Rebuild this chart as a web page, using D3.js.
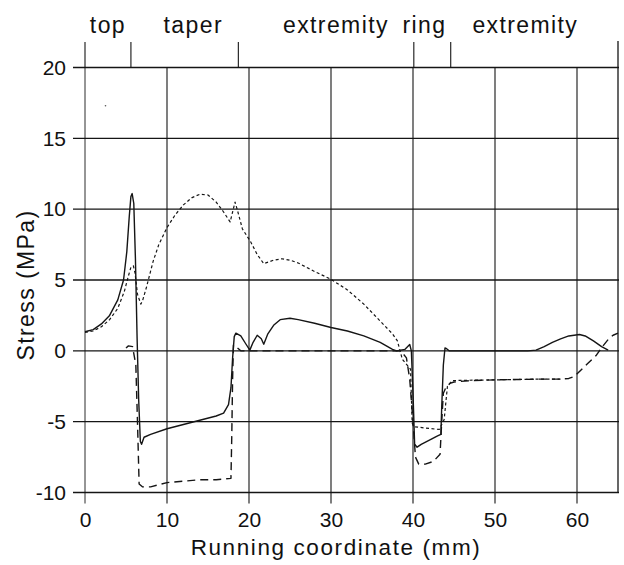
<!DOCTYPE html>
<html>
<head>
<meta charset="utf-8">
<script src="https://cdn.jsdelivr.net/npm/d3@7"></script>
<style>
  body { margin: 0; background: #fff; }
  text { font-family: 'Liberation Sans', Arial, sans-serif; fill: #111; }
</style>
</head>
<body>
<svg id="chart" width="624" height="565"></svg>
<script>
// tick values
xTicks = [0, 10, 20, 30, 40, 50, 60]
yTicks = [-10, -5, 0, 5, 10, 15, 20]

// region marks along the top (mm) and their labels
regionMarks = [0, 5.6, 18.7, 40.1, 44.6]
regionNames = ['top', 'taper', 'extremity', 'ring', 'extremity']
regionCentres = [2.8, 13.2, 30.6, 41.4, 53.7]

// solid curve
solid = [
  [0, 1.35], [1, 1.5], [2, 1.9], [3, 2.5], [4, 3.6], [4.7, 5], [5.1, 7], [5.4, 9.5],
  [5.6, 10.9], [5.75, 11.1], [5.95, 10.4], [6.15, 6.5], [6.35, 1], [6.55, -3.5],
  [6.75, -6.4], [6.9, -6.6], [7.2, -6.1], [8, -5.9], [10, -5.5], [12, -5.2],
  [14, -4.9], [16, -4.6], [16.9, -4.4], [17.5, -3.8], [17.8, -2.6], [18.0, -0.5],
  [18.2, 1.0], [18.4, 1.25], [19, 1.05], [19.6, 0.5], [20.1, 0.05], [20.5, 0.6],
  [21, 1.1], [21.5, 0.85], [21.8, 0.47], [22.3, 1.2], [23, 1.8], [23.8, 2.2],
  [25, 2.3], [26, 2.2], [28, 1.95], [30, 1.65], [32, 1.4], [34, 1.06], [36, 0.6],
  [37.5, 0.1], [38, 0], [39, 0.1], [39.6, 0.45], [39.8, 0], [40.0, -3],
  [40.2, -6.6], [40.5, -6.8], [41, -6.6], [42, -6.3], [43, -6.0], [43.4, -5.9],
  [43.5, -4], [43.7, -1], [43.9, 0.2], [44.1, 0.15], [44.4, 0], [46, 0], [50, 0],
  [54, 0], [55, 0.05], [56, 0.3], [57, 0.6], [58, 0.85], [59, 1.05], [60.3, 1.15],
  [61, 1.05], [62, 0.7], [63, 0.3], [63.8, 0.05]
]

// fine dotted curve
dotted = [
  [0, 1.3], [1, 1.4], [2, 1.7], [3, 2.2], [4, 3.0], [4.8, 4.2], [5.3, 5.3],
  [5.6, 5.9], [5.9, 6.0], [6.1, 5.5], [6.4, 4], [6.8, 3.3], [7.0, 3.5], [7.5, 4.5],
  [8.3, 6.3], [9, 7.5], [10, 8.7], [11, 9.6], [12, 10.3], [13, 10.8], [14, 11.05],
  [15, 11.0], [16, 10.5], [16.9, 9.8], [17.7, 9.1], [18.0, 9.8], [18.3, 10.5],
  [18.6, 9.9], [19.2, 8.6], [20.2, 7.7], [21, 6.8], [21.8, 6.15], [23, 6.4],
  [24, 6.5], [25, 6.4], [26, 6.2], [28, 5.6], [30, 5.05], [32, 4.3], [34, 3.3],
  [36, 2.1], [37.5, 1.2], [38.1, 0.7], [38.7, -0.6], [39.7, -1.3], [39.9, -5.1],
  [40.1, -5.35], [41.5, -5.45], [43.2, -5.55], [43.8, -4.85], [44.2, -2.5],
  [44.8, -2.1], [46.5, -2.08], [50, -2.05], [55, -2.0], [58, -2.0]
]

// long dashed curve
dashed = [
  [5.0, 0.2], [5.3, 0.35], [5.8, 0.3], [6.2, -1], [6.4, -5], [6.6, -9.4],
  [7.0, -9.6], [8, -9.6], [10, -9.3], [12, -9.2], [14, -9.1], [16, -9.1],
  [17.8, -9.0], [17.9, -6], [18.0, -2], [18.1, 0.4], [18.4, 0.3], [19, 0], [25, 0],
  [30, 0], [35, 0], [38.5, 0], [39.2, -0.5], [39.6, -2], [40.0, -5], [40.3, -7.5],
  [40.7, -8.0], [41.5, -8.0], [42.5, -7.8], [43.3, -7.3], [43.5, -5], [43.7, -3],
  [44, -2.6], [44.5, -2.3], [45, -2.2], [47, -2.1], [50, -2.05], [55, -2.0],
  [58, -2.0], [59, -1.95], [59.7, -1.8], [60.4, -1.4], [61.3, -0.9], [62.3, -0.35],
  [63.1, 0.3], [63.8, 0.8], [64.4, 1.1], [65, 1.25]
]

svg = d3.select('#chart')

x = d3.scaleLinear().domain([0, 65]).range([85, 618])
y = d3.scaleLinear().domain([-10, 20]).range([492.5, 67.5])

ink = '#151515'

// horizontal grid, a little past the left edge
svg.append('g').selectAll('line')
   .data(yTicks)
   .enter()
   .append('line')
   .attr('x1', x(0) - 12)
   .attr('x2', x(65) + 1)
   .attr('y1', function(d) { return y(d) })
   .attr('y2', function(d) { return y(d) })
   .attr('stroke', ink)
   .attr('stroke-width', 1.3)

// vertical grid, a little below the bottom
svg.append('g').selectAll('line')
   .data(xTicks)
   .enter()
   .append('line')
   .attr('x1', function(d) { return x(d) })
   .attr('x2', function(d) { return x(d) })
   .attr('y1', y(20))
   .attr('y2', y(-10) + 11)
   .attr('stroke', ink)
   .attr('stroke-width', function(d) { return d == 0 ? 0.9 : 1.1 })

// right border runs up to the region marks
svg.append('line')
   .attr('x1', x(65)).attr('x2', x(65))
   .attr('y1', 41).attr('y2', y(-10))
   .attr('stroke', ink)
   .attr('stroke-width', 1.3)

// region marks
svg.append('g').selectAll('line')
   .data(regionMarks)
   .enter()
   .append('line')
   .attr('x1', function(d) { return x(d) })
   .attr('x2', function(d) { return x(d) })
   .attr('y1', 42)
   .attr('y2', y(20))
   .attr('stroke', ink)
   .attr('stroke-width', 1.1)

svg.append('g').selectAll('text')
   .data(regionNames)
   .enter()
   .append('text')
   .attr('x', function(d, i) { return x(regionCentres[i]) })
   .attr('y', 33)
   .attr('text-anchor', 'middle')
   .style('font-size', '23px')
   .style('letter-spacing', '1.4px')
   .text(function(d) { return d })

// axes, used for the tick labels only (plain hyphen minus)
plain = function(d) { return String(d) }
xAxis = svg.append('g')
   .attr('transform', 'translate(0,' + y(-10) + ')')
   .call(d3.axisBottom(x).tickValues(xTicks).tickFormat(plain).tickSize(0).tickPadding(20))
yAxis = svg.append('g')
   .attr('transform', 'translate(' + x(0) + ',0)')
   .call(d3.axisLeft(y).tickValues(yTicks).tickFormat(plain).tickSize(0).tickPadding(19))

svg.selectAll('.domain').remove()
svg.selectAll('.tick text')
   .style('font-size', '21px')
   .style('font-family', "'Liberation Sans', Arial, sans-serif")
   .attr('fill', '#111')

svg.append('text')
   .attr('x', 336)
   .attr('y', 555)
   .attr('text-anchor', 'middle')
   .style('font-size', '22.5px')
   .style('letter-spacing', '1.6px')
   .text('Running coordinate (mm)')

svg.append('text')
   .attr('transform', 'translate(34,285) rotate(-90)')
   .attr('text-anchor', 'middle')
   .style('font-size', '23px')
   .style('letter-spacing', '1.4px')
   .text('Stress (MPa)')

// curves
line = d3.line()
         .x(function(d) { return x(d[0]) })
         .y(function(d) { return y(d[1]) })

function curve(data, dash, width) {
  svg.append('path')
     .datum(data)
     .attr('d', line)
     .attr('fill', 'none')
     .attr('stroke', ink)
     .attr('stroke-width', width)
     .attr('stroke-linejoin', 'round')
     .attr('stroke-dasharray', dash)
}

curve(dashed, '8,5', 1.4)
curve(dotted, '3,2.5', 1.2)
curve(solid, null, 1.4)

// stray speck from the scan
svg.append('circle')
   .attr('cx', x(2.5)).attr('cy', y(17.3))
   .attr('r', 0.8).attr('fill', '#555')
</script>
</body>
</html>
